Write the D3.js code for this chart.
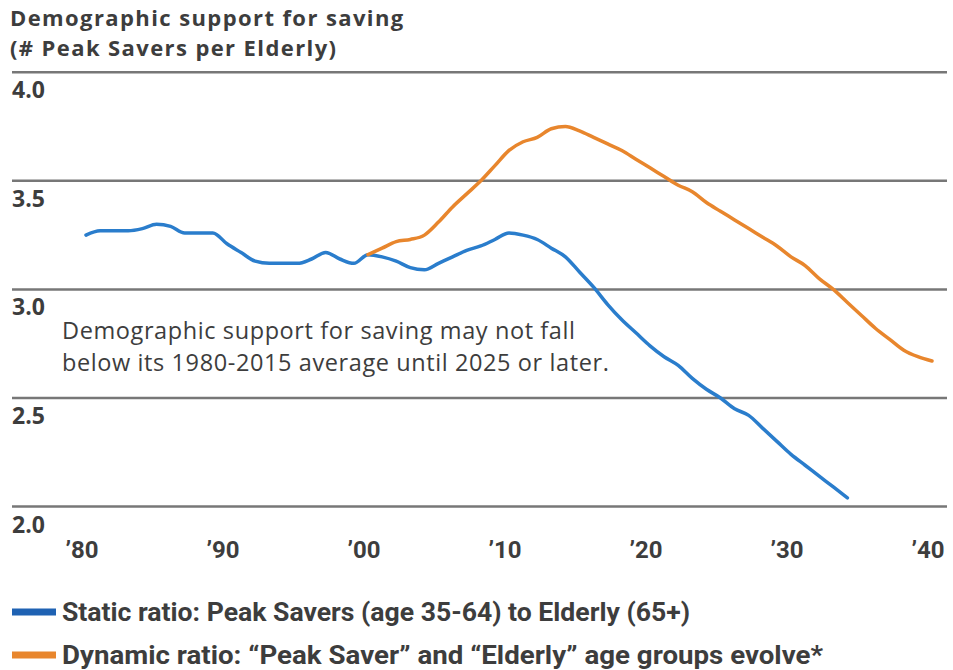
<!DOCTYPE html>
<meta charset="utf-8">
<style>
    body { margin: 0; background: #fff; }
    svg { display: block; }
    text { fill: #3d3d3d; }
</style>
<svg width="953" height="670"></svg>

<script src="https://d3js.org/d3.v7.min.js"></script>
<script>
    var titleLines = ["Demographic support for saving", "(# Peak Savers per Elderly)"];
    var noteLines = ["Demographic support for saving may not fall", "below its 1980-2015 average until 2025 or later."];

    var yTicks = [2.0, 2.5, 3.0, 3.5, 4.0];
    var xTicks = [1980, 1990, 2000, 2010, 2020, 2030, 2040];
    var xTickLabels = ["\u201980", "\u201990", "\u201900", "\u201910", "\u201920", "\u201930", "\u201940"];

    var staticYears = d3.range(1980, 2035);
    var staticValues = [3.25, 3.27, 3.27, 3.27, 3.28, 3.30, 3.29, 3.26, 3.26, 3.26,
        3.21, 3.17, 3.13, 3.12, 3.12, 3.12, 3.14, 3.17, 3.14, 3.12,
        3.16, 3.15, 3.13, 3.10, 3.09, 3.12, 3.15, 3.18, 3.20, 3.23,
        3.26, 3.25, 3.23, 3.19, 3.15, 3.08, 3.01, 2.93, 2.86, 2.80,
        2.74, 2.69, 2.65, 2.59, 2.54, 2.50, 2.45, 2.42, 2.36, 2.30,
        2.24, 2.19, 2.14, 2.09, 2.04];

    var dynamicYears = d3.range(2000, 2041);
    var dynamicValues = [3.16, 3.19, 3.22, 3.23, 3.25, 3.31, 3.38, 3.44, 3.50, 3.57,
        3.64, 3.68, 3.70, 3.74, 3.75, 3.73, 3.70, 3.67, 3.64, 3.60,
        3.56, 3.52, 3.48, 3.45, 3.40, 3.36, 3.32, 3.28, 3.24, 3.20,
        3.15, 3.11, 3.05, 3.00, 2.94, 2.88, 2.82, 2.77, 2.72, 2.69,
        2.67];

    var seriesNames = ["Static ratio: Peak Savers (age 35-64) to Elderly (65+)",
        "Dynamic ratio: \u201cPeak Saver\u201d and \u201cElderly\u201d age groups evolve*"];
    var seriesColors = ["#2a7dcc", "#e8862d"];
    var legendColors = ["#1f62b3", "#e8862d"];
    var legendWidths = [628, 761];

    (function () {
        var svg = d3.select("svg"),
            x = d3.scaleLinear().domain([1980, 2040]).range([86, 932]),
            y = d3.scaleLinear().domain([2, 4]).range([506.5, 72.3]),
            narrow = "'Roboto', sans-serif",
            sans = "'Open Sans', 'Noto Sans', sans-serif";

        // title
        svg.append("g").selectAll("text")
            .data(titleLines)
            .enter().append("text")
            .attr("x", 10)
            .attr("y", function (d, i) { return 26 + i * 30; })
            .style("font-family", sans)
            .style("font-weight", "bold")
            .style("font-size", "22px")
            .style("letter-spacing", "1.4px")
            .text(function (d) { return d; });

        // grid + y labels
        var grid = svg.append("g");
        grid.selectAll("line")
            .data(yTicks)
            .enter().append("line")
            .attr("x1", 12)
            .attr("x2", 947)
            .attr("y1", y)
            .attr("y2", y)
            .attr("stroke", "#777")
            .attr("stroke-width", 2.5);

        grid.selectAll("text")
            .data(yTicks)
            .enter().append("text")
            .attr("x", 12)
            .attr("y", function (d) { return y(d) + 26; })
            .style("font-family", sans)
            .style("font-weight", "bold")
            .style("font-size", "23px")
            .text(d3.format(".1f"));

        // x labels
        svg.append("g").selectAll("text")
            .data(xTicks)
            .enter().append("text")
            .attr("x", function (d) { return x(d) - 4; })
            .attr("y", 558)
            .attr("text-anchor", "middle")
            .style("font-family", narrow)
            .style("font-weight", "bold")
            .style("font-size", "24px")
            .text(function (d, i) { return xTickLabels[i]; });

        // note
        svg.append("g").selectAll("text")
            .data(noteLines)
            .enter().append("text")
            .attr("x", 62)
            .attr("y", function (d, i) { return 339 + i * 32; })
            .style("font-family", sans)
            .style("font-size", "23.5px")
            .style("letter-spacing", "0.6px")
            .text(function (d) { return d; });

        // lines
        var line = d3.line()
            .x(function (d) { return x(d[0]); })
            .y(function (d) { return y(d[1]); })
            .curve(d3.curveMonotoneX);

        var series = [
            d3.zip(staticYears, staticValues),
            d3.zip(dynamicYears, dynamicValues)
        ];

        svg.append("g").selectAll("path")
            .data(series)
            .enter().append("path")
            .attr("d", line)
            .attr("fill", "none")
            .attr("stroke", function (d, i) { return seriesColors[i]; })
            .attr("stroke-width", 3.5)
            .attr("stroke-linejoin", "round")
            .attr("stroke-linecap", "round");

        // legend
        var legend = svg.append("g").selectAll("g")
            .data(seriesNames)
            .enter().append("g")
            .attr("transform", function (d, i) { return "translate(0," + (612 + i * 43) + ")"; });

        legend.append("line")
            .attr("x1", 12)
            .attr("x2", 56)
            .attr("stroke", function (d, i) { return legendColors[i]; })
            .attr("stroke-width", 7);

        legend.append("text")
            .attr("x", 62)
            .attr("y", 9)
            .attr("textLength", function (d, i) { return legendWidths[i]; })
            .attr("lengthAdjust", "spacingAndGlyphs")
            .style("font-family", narrow)
            .style("font-weight", "bold")
            .style("font-size", "25px")
            .text(function (d) { return d; });
    })();
</script>
